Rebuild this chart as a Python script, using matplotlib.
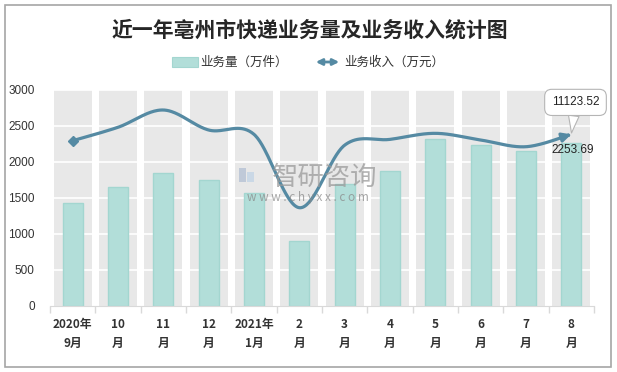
import numpy as np
import matplotlib
matplotlib.use('Agg')
import matplotlib.pyplot as plt
from matplotlib.patches import Rectangle, FancyArrowPatch

plt.rcParams['font.family'] = ['Noto Sans CJK SC', 'DejaVu Sans']

# 数据
months = ['2020年\n9月', '10\n月', '11\n月', '12\n月', '2021年\n1月', '2\n月',
          '3\n月', '4\n月', '5\n月', '6\n月', '7\n月', '8\n月']
volume = [1430, 1653, 1847, 1750, 1565, 903, 1686, 1875, 2311, 2228, 2144, 2253.69]
income = [2292, 2478, 2718, 2440, 2380, 1361, 2230, 2310, 2394, 2301, 2208, 2380]
yticks = [0, 500, 1000, 1500, 2000, 2500, 3000]
label_income = '11123.52'
label_volume = '2253.69'

W, H = 617, 372
bar_c = '#b2ded9'
bar_ec = '#a3d6d0'
line_c = '#558aa3'
band_c = '#e8e8e8'
txt_c = '#333333'


def fx(x):
    return x / W


def fy(y):
    return 1 - y / H


# 平滑曲线（类似Excel的平滑线）
def smooth(xs, ys, n=40):
    p = np.column_stack([xs, ys]).astype(float)
    p = np.vstack([p[0], p, p[-1]])
    out = []
    for i in range(1, len(p) - 2):
        p0, p1, p2, p3 = p[i - 1], p[i], p[i + 1], p[i + 2]
        c1 = p1 + (p2 - p0) / 6
        c2 = p2 - (p3 - p1) / 6
        t = np.linspace(0, 1, n)[:, None]
        seg = ((1 - t) ** 3) * p1 + 3 * ((1 - t) ** 2) * t * c1 + 3 * (1 - t) * t ** 2 * c2 + t ** 3 * p2
        out.append(seg if i == 1 else seg[1:])
    out = np.vstack(out)
    return out[:, 0], out[:, 1]


fig = plt.figure(figsize=(W / 100, H / 100), dpi=100)
fig.patch.set_facecolor('white')
fig.add_artist(Rectangle((fx(5), fy(367)), fx(606), 362 / H, transform=fig.transFigure,
                         fill=False, ec='#a6a6a6', lw=1.2))

ax = fig.add_axes([fx(50), fy(305.7), (594 - 50) / W, (305.7 - 89.7) / H])
x = np.arange(len(months))

# 背景灰色柱带
for i in x:
    ax.axvspan(i - 0.42, i + 0.42, color=band_c, zorder=0, lw=0)
for v in yticks[1:]:
    ax.axhline(v, color='white', lw=1.2, zorder=1)

ax.bar(x, volume, width=0.44, color=bar_c, edgecolor=bar_ec, lw=1, zorder=2)

sx, sy = smooth(x, income)
ax.plot(sx[:-3], sy[:-3], color=line_c, lw=2.3, zorder=3, solid_capstyle='butt')
ax.plot(x[0], income[0], marker='D', ms=5.5, color=line_c, zorder=4)
ax.annotate('', xy=(sx[-1], sy[-1]), xytext=(sx[-6], sy[-6]),
            arrowprops=dict(arrowstyle='-|>', mutation_scale=13, color=line_c, lw=2.3,
                            shrinkA=0, shrinkB=0), zorder=4)

# 数据标签
ax.annotate(label_income, xy=(x[-1], income[-1]), xytext=(3, 23), textcoords='offset points',
            ha='center', va='center', fontsize=8.5, color='#222222', family=['Liberation Sans'],
            bbox=dict(boxstyle='round,pad=0.6,rounding_size=0.6', fc='white', ec='#b5b5b5', lw=0.8),
            arrowprops=dict(arrowstyle='wedge,tail_width=0.9,shrink_factor=0.5', fc='white',
                            ec='#b5b5b5', lw=0.8, shrinkA=0, shrinkB=1), zorder=6)
ax.text(x[-1] + 0.02, volume[-1] - 90, label_volume, ha='center', va='center', fontsize=8.5,
        color='#222222', family=['Liberation Sans'], zorder=6)

ax.set_xlim(-0.5, len(months) - 0.5)
ax.set_ylim(0, 3000)
ax.set_yticks(yticks)
ax.set_yticklabels([str(v) for v in yticks], fontsize=8.5, color=txt_c, family=['Liberation Sans'])
ax.tick_params(axis='y', length=0, pad=11)
ax.set_xticks(x)
ax.set_xticklabels(months, fontsize=8.5, fontweight='bold', color=txt_c, linespacing=1.55)
ax.tick_params(axis='x', length=0, pad=9)
ax.set_xticks(np.arange(-0.5, len(months), 1), minor=True)
ax.tick_params(axis='x', which='minor', length=5, color='#d9d9d9', width=1)
for s in ['top', 'right', 'left']:
    ax.spines[s].set_visible(False)
ax.spines['bottom'].set_color('#d9d9d9')
ax.set_facecolor('white')

# 标题
fig.text(fx(310), fy(30), '近一年亳州市快递业务量及业务收入统计图', ha='center', va='center',
         fontsize=15, fontweight='bold', color='#262626')

# 图例
fig.add_artist(Rectangle((fx(172), fy(67)), 26 / W, 10 / H, transform=fig.transFigure,
                         fc=bar_c, ec=bar_ec, lw=0.8))
fig.text(fx(200), fy(62), '业务量（万件）', ha='left', va='center', fontsize=9, color=txt_c)
fig.add_artist(FancyArrowPatch((fx(313), fy(62)), (fx(342), fy(62)), transform=fig.transFigure,
                               arrowstyle='<|-|>', mutation_scale=9, color=line_c, lw=2))
fig.text(fx(344), fy(62), '业务收入（万元）', ha='left', va='center', fontsize=9, color=txt_c)

# 水印
fig.add_artist(Rectangle((fx(239), fy(182)), 7 / W, 14 / H, transform=fig.transFigure,
                         fc='#b8c4d6', ec='none', alpha=0.85, zorder=10))
fig.add_artist(Rectangle((fx(247), fy(182)), 7 / W, 10 / H, transform=fig.transFigure,
                         fc='#c5d6e6', ec='none', alpha=0.85, zorder=10))
fig.text(fx(325), fy(177), '智研咨询', ha='center', va='center', fontsize=19,
         color='#9a9a9a', alpha=0.75, zorder=10)
fig.text(fx(308), fy(198), 'w w w . c h y x x . c o m', ha='center', va='center', fontsize=8.5,
         color='#8a8a8a', alpha=0.75, zorder=10)

fig.savefig('out.png', dpi=100)
